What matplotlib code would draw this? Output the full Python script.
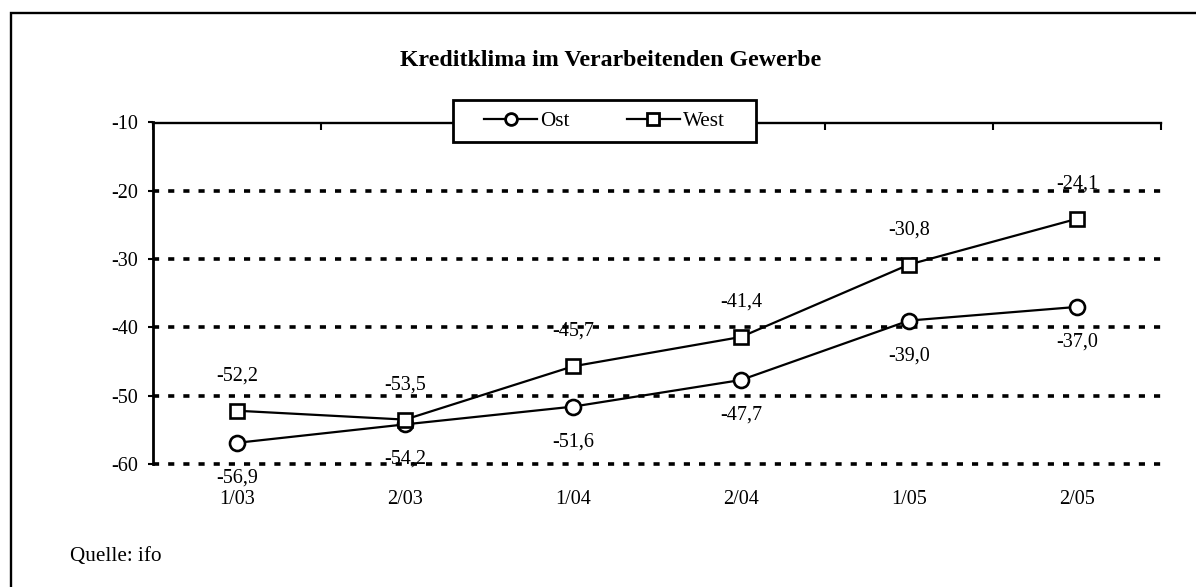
import matplotlib
matplotlib.use("Agg")
import matplotlib.pyplot as plt
from matplotlib.patches import Rectangle
from matplotlib.lines import Line2D

# ---- data ----
categories = ["1/03", "2/03", "1/04", "2/04", "1/05", "2/05"]
ost = [-56.9, -54.2, -51.6, -47.7, -39.0, -37.0]
west = [-52.2, -53.5, -45.7, -41.4, -30.8, -24.1]
yticks = [-10, -20, -30, -40, -50, -60]
ytick_labels = ["-10", "-20", "-30", "-40", "-50", "-60"]
title = "Kreditklima im Verarbeitenden Gewerbe"
source = "Quelle: ifo"

W, H = 1196, 587
plt.rcParams['font.family'] = ['Liberation Serif', 'DejaVu Serif']
fig = plt.figure(figsize=(W / 100, H / 100), dpi=100)
fig.patch.set_facecolor("white")

# outer frame (cropped at right and bottom)
fig.patches.append(Rectangle((11 / W, -0.1), 1.2, 1 - 13 / H + 0.1,
                             transform=fig.transFigure, fill=False,
                             edgecolor="black", linewidth=1.7, clip_on=False))

left, right, top, bottom = 153, 1161, 122.5, 464
ax = fig.add_axes([left / W, 1 - bottom / H, (right - left) / W, (bottom - top) / H])
x = list(range(len(categories)))

ax.set_xlim(-0.5, len(categories) - 0.5)
ax.set_ylim(-60, -10)

for s in ["bottom", "right"]:
    ax.spines[s].set_visible(False)
ax.spines["left"].set_linewidth(2.0)
ax.spines["top"].set_linewidth(1.7)

# gridlines (none at the top value, where the category axis sits)
ax.set_yticks(yticks, labels=ytick_labels)
ax.yaxis.grid(True, color="black", linewidth=2.6, linestyle=(0, (1.7, 2.5)))
for tv, gl in zip(yticks, ax.get_ygridlines()):
    gl.set_clip_on(False)
    if tv == max(yticks):
        gl.set_visible(False)
ax.set_axisbelow(True)
ax.tick_params(axis="y", direction="out", length=3.6, width=1.5, pad=7,
               labelsize=14.5)

ax.set_xticks(x, labels=categories)
ax.set_xticks([i - 0.5 for i in range(len(categories) + 1)], minor=True)
ax.tick_params(axis="x", which="major", length=0, pad=19, labelsize=14.5)
ax.tick_params(axis="x", which="minor", bottom=False, top=True,
               direction="in", length=5, width=1.5)

def fmt(v):
    return f"{v:.1f}".replace(".", ",")

ax.plot(x, ost, color="black", linewidth=1.6, marker="o", markersize=10.8,
        markerfacecolor="white", markeredgecolor="black", markeredgewidth=1.9,
        zorder=3, clip_on=False)
ax.plot(x, west, color="black", linewidth=1.6, marker="s", markersize=10.5,
        markerfacecolor="white", markeredgecolor="black", markeredgewidth=1.9,
        zorder=4, clip_on=False)

for xi, v in zip(x, ost):
    ax.annotate(fmt(v), (xi, v), xytext=(0, -25.2), textcoords="offset points",
                ha="center", va="center", fontsize=14.5, zorder=5)
for xi, v in zip(x, west):
    ax.annotate(fmt(v), (xi, v), xytext=(0, 25.2), textcoords="offset points",
                ha="center", va="center", fontsize=14.5, zorder=5)

# legend box
lx0, lx1, ly0, ly1 = 453, 756, 100, 142
fig.patches.append(Rectangle((lx0 / W, 1 - ly1 / H), (lx1 - lx0) / W, (ly1 - ly0) / H,
                             transform=fig.transFigure, facecolor="white",
                             edgecolor="black", linewidth=2.0, zorder=10))
handles = [
    Line2D([], [], color="black", linewidth=1.6, marker="o", markersize=8.5,
           markerfacecolor="white", markeredgewidth=2.0),
    Line2D([], [], color="black", linewidth=1.6, marker="s", markersize=8.5,
           markerfacecolor="white", markeredgewidth=2.0),
]
leg = fig.legend(handles, ["Ost", "West"], loc="center",
                 bbox_to_anchor=((lx0 + lx1) / 2 / W, 1 - (ly0 + ly1) / 2 / H),
                 ncol=2, frameon=False, fontsize=15.2, handlelength=2.5,
                 handletextpad=0.15, columnspacing=2.7, borderpad=0.0)
leg.set_zorder(11)

fig.text(611 / W, 1 - 66 / H, title, ha="center", va="baseline",
         fontsize=17.2, fontweight="bold")
fig.text(70 / W, 1 - 557 / H, source, ha="left", va="center", fontsize=15.2)

fig.savefig("out.png", dpi=100)
